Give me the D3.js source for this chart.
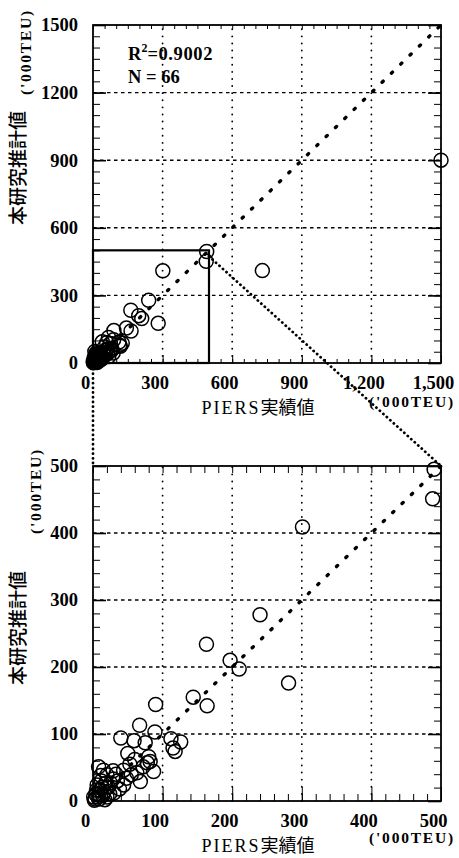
<!DOCTYPE html>
<html>
<head>
<meta charset="utf-8">
<script src="https://cdnjs.cloudflare.com/ajax/libs/d3/7.8.5/d3.min.js"></script>
<style>
  body { margin: 0; background: #fff; }
  svg { display: block; }
  .axis text { font-family: 'Liberation Serif', 'DejaVu Serif', serif; font-weight: bold; font-size: 18.5px; fill: #000; }
  .axis path { display: none; }
  .axis line { stroke: #000; }
  .title { font-family: 'Liberation Serif', 'Noto Sans CJK JP', serif; fill: #000; }
  .unit { font-family: 'Liberation Serif', serif; font-weight: bold; font-size: 15.5px; letter-spacing: 1.8px; fill: #000; }
  .stats { font-family: 'Liberation Serif', serif; font-weight: bold; font-size: 18.5px; fill: #000; }
</style>
</head>
<body>
<div id="chart"></div>
<script>
// PIERS actual ('000TEU) vs this study's estimate ('000TEU), 66 routes
var piersActual = [
    490, 488, 301, 730, 1500, 240, 163, 197, 210, 281,
    144, 164, 90, 67, 89, 40, 59, 75, 112, 126,
    115, 118, 50, 80, 82, 72, 53, 44, 55, 68,
    44, 29, 15, 8, 20, 29, 22, 24, 5, 1,
    7, 10, 63, 78, 35, 38, 12, 18, 14, 3,
    9, 16, 30, 6, 11, 25, 4, 20, 33, 48,
    60, 87, 13, 2, 8, 17
];
var studyEstimate = [
    495, 451, 409, 410, 900, 278, 234, 210, 197, 176,
    155, 142, 144, 113, 103, 94, 90, 87, 93, 88,
    79, 74, 71, 66, 59, 51, 55, 46, 39, 29,
    24, 33, 46, 51, 39, 45, 21, 11, 16, 6,
    6, 16, 42, 57, 30, 18, 30, 26, 8, 3,
    3, 14, 12, 24, 38, 27, 10, 6, 40, 34,
    62, 44, 20, 1, 10, 2
];
var overviewTicks = [0, 300, 600, 900, 1200, 1500];
var overviewLabelsX = ['0', '300', '600', '900', '1,200', '1,500'];
var overviewLabelsY = ['0', '300', '600', '900', '1200', '1500'];
var detailTicks = [0, 100, 200, 300, 400, 500];
var detailLabels = ['0', '100', '200', '300', '400', '500'];
var fitR2 = '0.9002';
var fitN = '66';

var width = 459, height = 858;

var svg = d3.select('#chart')
    .append('svg')
    .attr('width', width)
    .attr('height', height);

var overview = {
    max: 1500, minorStep: 50,
    left: 93, right: 441, top: 25, bottom: 363,
    ticks: overviewTicks, labelsX: overviewLabelsX, labelsY: overviewLabelsY,
    xPad: 13, sideTickX: 4
};
var detail = {
    max: 500, minorStep: 20,
    left: 93, right: 441, top: 466, bottom: 801,
    ticks: detailTicks, labelsX: detailLabels, labelsY: detailLabels,
    xPad: 13, sideTickX: 7
};

drawPanel(overview);
drawPanel(detail);

// zoom box in the overview and connectors to the detail panel
var ox = overview.x, oy = overview.y, dx = detail.x, dy = detail.y;

svg.append('rect')
    .attr('x', ox(0))
    .attr('y', oy(500))
    .attr('width', ox(500) - ox(0))
    .attr('height', oy(0) - oy(500))
    .attr('fill', 'none')
    .attr('stroke', '#000')
    .attr('stroke-width', 2.2);

var connectors = [
    [[ox(0), oy(0)], [dx(0), dy(500)]],
    [[ox(500), oy(500)], [dx(500), dy(500)]]
];
svg.selectAll('line.connector')
    .data(connectors)
    .enter().append('line')
    .attr('class', 'connector')
    .attr('x1', function(d) { return d[0][0]; })
    .attr('y1', function(d) { return d[0][1] + 6; })
    .attr('x2', function(d) { return d[1][0]; })
    .attr('y2', function(d) { return d[1][1]; })
    .attr('stroke', '#000')
    .attr('stroke-width', 2.8)
    .attr('stroke-linecap', 'round')
    .attr('stroke-dasharray', '0.1 4.6');

// stats in overview
var stats = svg.append('text')
    .attr('class', 'stats')
    .attr('x', 128)
    .attr('y', 60);
stats.append('tspan').text('R');
stats.append('tspan').attr('dy', -8).attr('font-size', 12).text('2');
stats.append('tspan').attr('dy', 8).attr('letter-spacing', 0.6).text('=' + fitR2);
svg.append('text')
    .attr('class', 'stats')
    .attr('x', 128)
    .attr('y', 83)
    .text('N = ' + fitN);

// axis titles
addTitles(18, 168, 26, 52, 408, 402);
addTitles(18, 628, 36, 491, 846, 838);

function drawPanel(conf) {
    var x = d3.scaleLinear().domain([0, conf.max]).range([conf.left, conf.right]);
    var y = d3.scaleLinear().domain([0, conf.max]).range([conf.bottom, conf.top]);
    conf.x = x;
    conf.y = y;

    var g = svg.append('g');
    var inner = conf.ticks.slice(1, -1);

    // grid: dashed horizontal, dotted vertical
    g.selectAll('line.hgrid')
        .data(inner).enter().append('line')
        .attr('x1', x(0)).attr('x2', x(conf.max))
        .attr('y1', function(d) { return y(d); })
        .attr('y2', function(d) { return y(d); })
        .attr('stroke', '#000')
        .attr('stroke-width', 1.4)
        .attr('stroke-dasharray', '3.5 3.5');
    g.selectAll('line.vgrid')
        .data(inner).enter().append('line')
        .attr('x1', function(d) { return x(d); })
        .attr('x2', function(d) { return x(d); })
        .attr('y1', y(0)).attr('y2', y(conf.max))
        .attr('stroke', '#000')
        .attr('stroke-width', 1.8)
        .attr('stroke-linecap', 'round')
        .attr('stroke-dasharray', '0.1 7');

    var minor = d3.range(0, conf.max + 1, conf.minorStep);

    // minor ticks on all sides
    g.append('g').attr('class', 'axis')
        .attr('transform', 'translate(' + x(0) + ',0)')
        .call(d3.axisLeft(y).tickValues(minor).tickSize(-7).tickFormat(''));
    g.append('g').attr('class', 'axis')
        .attr('transform', 'translate(' + x(conf.max) + ',0)')
        .call(d3.axisRight(y).tickValues(minor).tickSize(-7).tickFormat(''));
    g.append('g').attr('class', 'axis')
        .attr('transform', 'translate(0,' + y(conf.max) + ')')
        .call(d3.axisTop(x).tickValues(minor).tickSize(-conf.sideTickX).tickFormat(''));
    g.append('g').attr('class', 'axis')
        .attr('transform', 'translate(0,' + y(0) + ')')
        .call(d3.axisBottom(x).tickValues(minor).tickSize(-conf.sideTickX).tickFormat(''));

    // major ticks with labels
    g.append('g').attr('class', 'axis')
        .attr('transform', 'translate(' + x(0) + ',0)')
        .call(d3.axisLeft(y).tickValues(conf.ticks).tickSize(-13).tickPadding(15)
            .tickFormat(function(d, i) { return conf.labelsY[i]; }))
        .selectAll('line').attr('stroke-width', 1.6);
    g.append('g').attr('class', 'axis')
        .attr('transform', 'translate(' + x(conf.max) + ',0)')
        .call(d3.axisRight(y).tickValues(conf.ticks).tickSize(-13).tickFormat(''))
        .selectAll('line').attr('stroke-width', 1.6);
    g.append('g').attr('class', 'axis')
        .attr('transform', 'translate(0,' + y(0) + ')')
        .call(d3.axisBottom(x).tickValues(conf.ticks).tickSize(-conf.sideTickX * 2)
            .tickPadding(conf.xPad)
            .tickFormat(function(d, i) { return conf.labelsX[i]; }))
        .selectAll('text').attr('dx', -8);

    // frame
    g.append('rect')
        .attr('x', x(0)).attr('y', y(conf.max))
        .attr('width', x(conf.max) - x(0))
        .attr('height', y(0) - y(conf.max))
        .attr('fill', 'none')
        .attr('stroke', '#000')
        .attr('stroke-width', 1.8);

    // 45 degree line
    g.append('line')
        .attr('x1', x(0)).attr('y1', y(0))
        .attr('x2', x(conf.max)).attr('y2', y(conf.max))
        .attr('stroke', '#000')
        .attr('stroke-width', 3.4)
        .attr('stroke-linecap', 'round')
        .attr('stroke-dasharray', '1.5 11.5');

    // observations
    g.selectAll('circle')
        .data(d3.range(piersActual.length)).enter().append('circle')
        .attr('cx', function(i) { return x(piersActual[i]); })
        .attr('cy', function(i) { return y(studyEstimate[i]); })
        .attr('r', 7)
        .attr('fill', 'none')
        .attr('stroke', '#000')
        .attr('stroke-width', 1.5)
        .style('display', function(i) {
            return piersActual[i] > conf.max || studyEstimate[i] > conf.max ? 'none' : null;
        });
}

function addTitles(yx, yy, ux, uy, xy, uxy) {
    svg.append('text')
        .attr('class', 'title')
        .attr('transform', 'translate(' + yx + ',' + yy + ') rotate(-90)')
        .attr('text-anchor', 'middle')
        .attr('dy', '0.35em')
        .attr('font-size', 19)
        .attr('font-family', "'Noto Sans CJK JP', sans-serif")
        .attr('font-weight', 500)
        .text('本研究推計値');
    svg.append('text')
        .attr('class', 'unit')
        .attr('transform', 'translate(' + ux + ',' + uy + ') rotate(-90)')
        .attr('text-anchor', 'middle')
        .attr('dy', '0.35em')
        .text("('000TEU)");

    var xt = svg.append('text')
        .attr('class', 'title')
        .attr('x', 258)
        .attr('y', xy)
        .attr('text-anchor', 'middle')
        .attr('dy', '0.35em')
        .attr('font-size', 18);
    xt.append('tspan').attr('letter-spacing', 2).text('PIERS');
    xt.append('tspan').attr('font-family', "'Noto Sans CJK JP', sans-serif").text('実績値');
    svg.append('text')
        .attr('class', 'unit')
        .attr('x', 412)
        .attr('y', uxy)
        .attr('text-anchor', 'middle')
        .attr('dy', '0.35em')
        .text("('000TEU)");
}
</script>
</body>
</html>
